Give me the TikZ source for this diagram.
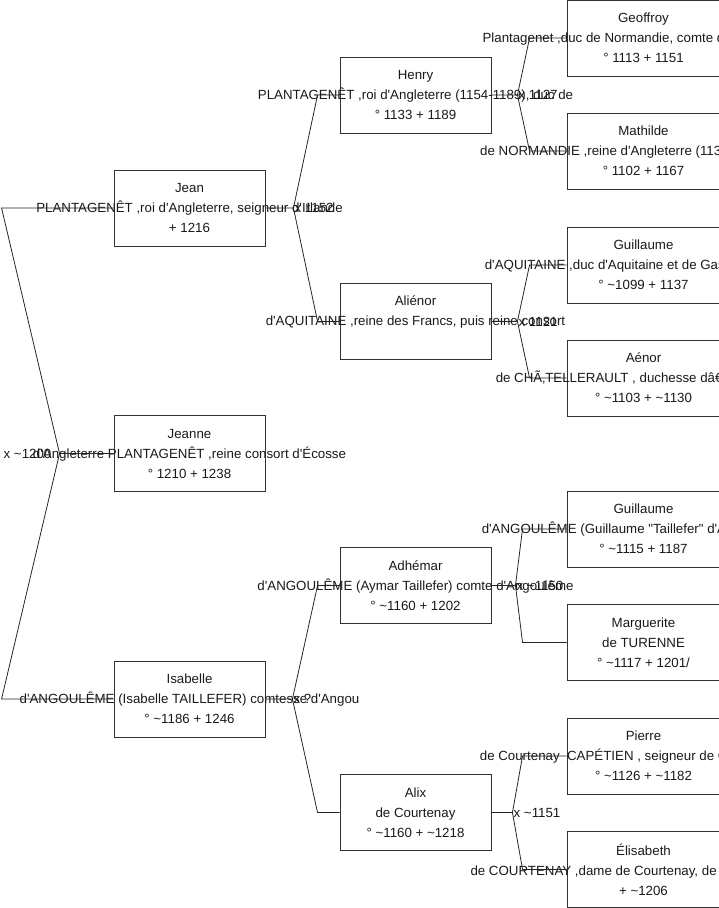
\documentclass[tikz,border=0pt]{standalone}
\usepackage{fontspec}
\setmainfont{Liberation Sans}[Ligatures=TeXOff]
\newcommand{\abt}{\textasciitilde}

\begin{document}
\begin{tikzpicture}[x=1pt,y=1pt,
    person/.style={draw=black!80,line width=0.9pt,minimum width=151pt,minimum height=76pt,inner sep=0pt},
    far/.style={person,minimum width=153pt},
    who/.style={align=center,font=\fontsize{13.3}{20}\selectfont,text=black!90,inner sep=0pt},
    link/.style={draw=black!85,line width=0.8pt},
    wed/.style={anchor=west,font=\fontsize{13.3}{15}\selectfont,text=black!90,inner sep=1pt}]
  \useasboundingbox (0,0) rectangle (719,-908);
  % boxes
  \foreach \n/\x/\y in {jean/189.5/208, jeanne/189.5/453.5, isabelle/189.5/699,
      henry/415.5/95, alienor/415.5/321.5, adhemar/415.5/585.5, alix/415.5/812.5}
    \node[person] (\n) at (\x,-\y) {};
  \foreach \n/\y in {geoffroy/38, mathilde/151, guillaumeA/265, aenor/378,
      guillaumeB/529, marguerite/642.5, pierre/756, elisabeth/869.5}
    \node[far] (\n) at (643.5,-\y) {};
  % names
  \node[who] at (jean) {Jean\\PLANTAGENÊT ,roi d'Angleterre, seigneur d'Irlande\\+ 1216};
  \node[who] at (jeanne) {Jeanne\\d'Angleterre PLANTAGENÊT ,reine consort d'Écosse\\° 1210 + 1238};
  \node[who] at (isabelle) {Isabelle\\d'ANGOULÊME (Isabelle TAILLEFER) comtesse d'Angou\\° \abt1186 + 1246};
  \node[who] at (henry) {Henry\\PLANTAGENÊT ,roi d'Angleterre (1154-1189), duc de\\° 1133 + 1189};
  \node[who] at ([yshift=10pt]alienor) {Aliénor\\d'AQUITAINE ,reine des Francs, puis reine consort};
  \node[who] at (adhemar) {Adhémar\\d'ANGOULÊME (Aymar Taillefer) comte d'Angoulême\\° \abt1160 + 1202};
  \node[who] at (alix) {Alix\\de Courtenay\\° \abt1160 + \abt1218};
  \node[who] at (geoffroy) {Geoffroy\\Plantagenet ,duc de Normandie, comte d'Anjou, Maine\\° 1113 + 1151};
  \node[who] at (mathilde) {Mathilde\\de NORMANDIE ,reine d'Angleterre (1135-1141), dame\\° 1102 + 1167};
  \node[who] at (guillaumeA) {Guillaume\\d'AQUITAINE ,duc d'Aquitaine et de Gascogne (1126)\\° \abt1099 + 1137};
  \node[who] at (aenor) {Aénor\\de CHÃ‚TELLERAULT , duchesse dâ€™Aquitaine\\° \abt1103 + \abt1130};
  \node[who] at (guillaumeB) {Guillaume\\d'ANGOULÊME (Guillaume "Taillefer" d'Angoulême VI)\\° \abt1115 + 1187};
  \node[who] at (marguerite) {Marguerite\\de TURENNE\\° \abt1117 + 1201/};
  \node[who] at (pierre) {Pierre\\de Courtenay\ \ CAPÉTIEN , seigneur de Courtenay, etc.\\° \abt1126 + \abt1182};
  \node[who] at (elisabeth) {Élisabeth\\de COURTENAY ,dame de Courtenay, de Montargis, Sens\\+ \abt1206};
  % parents
  \draw[link] (jeanne.west) -- ++(-54,0) coordinate (fj) -- ([xshift=-112pt]jean.west) -- (jean.west);
  \draw[link] (fj) -- ([xshift=-112pt]isabelle.west) -- (isabelle.west);
  \node[wed,anchor=east] at ([xshift=-7pt]fj) {x \abt1200};
  \foreach \c/\p/\q/\m/\d/\g in {jean/henry/alienor/{x 1152}/28/22,
      isabelle/adhemar/alix/{x ?}/27/22,
      henry/geoffroy/mathilde/{x 1127}/26/37,
      alienor/guillaumeA/aenor/{x 1121}/26/37,
      adhemar/guillaumeB/marguerite/{x \abt1150}/24/44,
      alix/pierre/elisabeth/{x \abt1151}/21/44}
  {
    \draw[link] (\c.east) -- ++(\d,0) coordinate (f) -- ([xshift=-\g pt]\p.west) -- (\p.west);
    \draw[link] (f) -- ([xshift=-\g pt]\q.west) -- (\q.west);
    \node[wed] at (f) {\m};
  }
\end{tikzpicture}
\end{document}
